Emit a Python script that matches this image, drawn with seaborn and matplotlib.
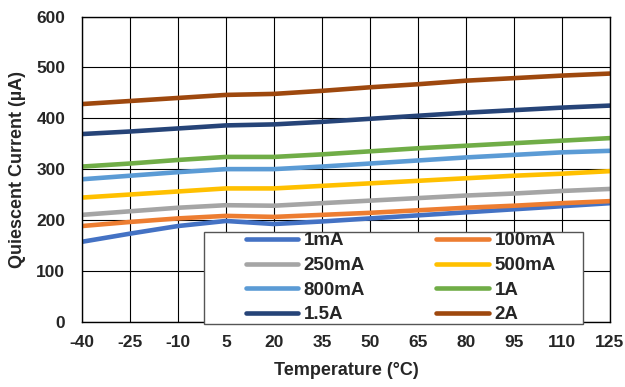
import pandas as pd
import matplotlib
matplotlib.use('Agg')
import matplotlib.pyplot as plt
from matplotlib.patches import Rectangle
import seaborn as sns

temps = [-40, -25, -10, 5, 20, 35, 50, 65, 80, 95, 110, 125]
loads = ['1mA', '100mA', '250mA', '500mA', '800mA', '1A', '1.5A', '2A']

i_1ma = [157, 173, 188, 198, 192, 197, 203, 209, 215, 221, 227, 233]
i_100ma = [188, 196, 203, 208, 206, 210, 214, 219, 224, 228, 233, 237]
i_250ma = [210, 217, 224, 229, 228, 233, 238, 243, 248, 252, 257, 261]
i_500ma = [244, 250, 256, 262, 262, 267, 272, 277, 282, 287, 291, 296]
i_800ma = [280, 287, 294, 300, 300, 305, 311, 317, 323, 328, 333, 336]
i_1a = [305, 311, 318, 324, 324, 329, 335, 341, 346, 351, 356, 361]
i_1p5a = [369, 374, 380, 386, 388, 393, 399, 405, 411, 416, 421, 425]
i_2a = [428, 434, 440, 446, 448, 454, 461, 467, 474, 479, 484, 488]

colors = ['#4472C4', '#ED7D31', '#A5A5A5', '#FFC000',
          '#5B9BD5', '#70AD47', '#264478', '#9E480E']

series = [i_1ma, i_100ma, i_250ma, i_500ma, i_800ma, i_1a, i_1p5a, i_2a]
rows = []
for name, vals in zip(loads, series):
    for t, v in zip(temps, vals):
        rows.append({'temp': t, 'iq': v, 'load': name})
df = pd.DataFrame(rows)

sns.set_style('white')
plt.rcParams['font.family'] = ['Liberation Sans', 'DejaVu Sans']
plt.rcParams['font.weight'] = 'bold'
plt.rcParams['axes.unicode_minus'] = False

fig = plt.figure(figsize=(6.25, 3.87), dpi=100)
ax = fig.add_axes([0.131, 0.169, 0.845, 0.788])

sns.lineplot(data=df, x='temp', y='iq', hue='load', hue_order=loads,
             palette=colors, linewidth=3.3, ax=ax, legend=True)

ax.set_xlim(-40, 125)
ax.set_ylim(0, 600)
ax.set_xticks(temps)
ax.set_yticks(range(0, 601, 100))
ax.tick_params(labelsize=12.5, length=0)
ax.tick_params(axis='x', pad=10)
ax.tick_params(axis='y', pad=12)
for lbl in ax.get_xticklabels() + ax.get_yticklabels():
    lbl.set_fontweight('bold')
ax.grid(True, color='black', linewidth=0.8)
for s in ax.spines.values():
    s.set_color('black')
    s.set_linewidth(1.0)
ax.set_xlabel('Temperature (°C)', fontsize=13, fontweight='bold', labelpad=8)
ax.set_ylabel('Quiescent Current (µA)', fontsize=13, fontweight='bold', labelpad=7)

# legend filled row by row, as in the original
handles, labels = ax.get_legend_handles_labels()
order = [0, 2, 4, 6, 1, 3, 5, 7]
handles = [handles[i] for i in order]
labels = [labels[i] for i in order]
for h in handles:
    h.set_solid_capstyle('round')

# white box behind the legend, spilling a little under the x axis
box = Rectangle((0.326, 0.163), 0.606, 0.238, transform=fig.transFigure,
                facecolor='white', edgecolor='#555555', linewidth=1.0,
                zorder=3)
ax.add_artist(box)
box.set_clip_on(False)

leg = ax.legend(handles, labels, ncol=2, loc='center',
                bbox_to_anchor=(0.641, 0.163 + 0.238 / 2),
                bbox_transform=fig.transFigure, frameon=False,
                prop={'weight': 'bold', 'size': 13.5}, handlelength=2.8,
                handletextpad=0.3, labelspacing=0.4, borderpad=0.2,
                columnspacing=3.8)
leg.set_zorder(4)

fig.savefig('out.png', dpi=100)
